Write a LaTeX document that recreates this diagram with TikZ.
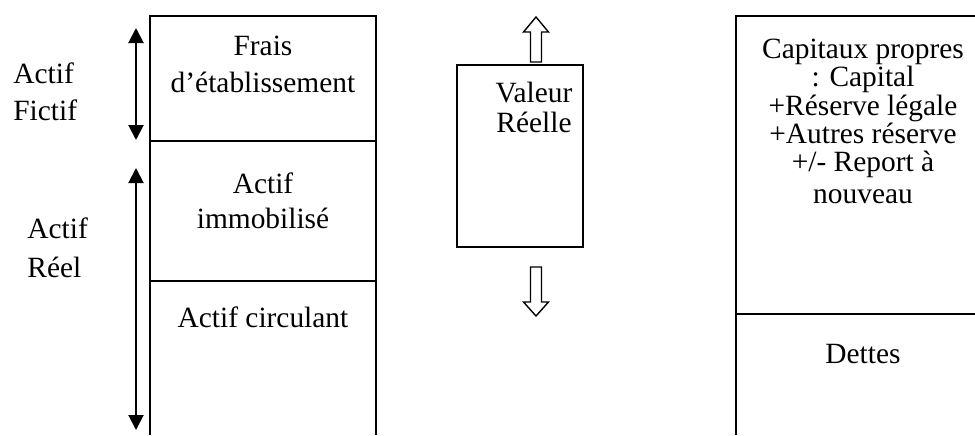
\documentclass[tikz,border=0pt]{standalone}
\usepackage{fontspec}
\setmainfont{Liberation Serif}
\usetikzlibrary{arrows.meta}
\begin{document}
\begin{tikzpicture}[x=0.5pt,y=-0.5pt,line join=miter,
  frame/.style={line width=1pt},
  divider/.style={line width=0.7pt},
  lbl/.style={anchor=base,inner sep=0pt,font=\fontsize{14.7}{17}\selectfont},
  lblw/.style={lbl,anchor=base west},
  dbl/.style={{Triangle[length=7.5pt,width=7.5pt]}-{Triangle[length=7.5pt,width=7.5pt]},line width=1pt},
  hollow/.style={line width=0.7pt}]
\useasboundingbox (0,0) rectangle (975,435);
% left box
\draw[frame] (150,435) -- (150,16) -- (376,16) -- (376,435);
\draw[divider] (150,141) -- (376,141);
\draw[divider] (150,281) -- (376,281);
% double arrows
\coordinate (f1) at (136,28);
\coordinate (f2) at (136,140);
\coordinate (r1) at (136,168);
\coordinate (r2) at (136,430);
\draw[dbl] (f1) -- (f2);
\draw[dbl] (r1) -- (r2);
% middle box
\draw[frame] (457,65) rectangle (583,247);
\draw[hollow] (536,17) -- (548.5,32) -- (541.5,32) -- (541.5,62) -- (530.5,62) -- (530.5,32) -- (523.5,32) -- cycle;
\draw[hollow] (536,316) -- (548.5,302) -- (541.5,302) -- (541.5,267) -- (530.5,267) -- (530.5,302) -- (523.5,302) -- cycle;
% right box
\draw[frame] (736,435) -- (736,16) -- (975,16);
\draw[divider] (736,314) -- (975,314);
% left labels
\node[lblw] (af) at (13,83) {Actif};
\node[lblw] (fi) at (13,120) {Fictif};
\node[lblw] (ar) at (27,238) {Actif};
\node[lblw] (re) at (27,277) {Réel};
% left box texts
\node[lbl] (fr1) at (263,55) {Frais};
\node[lbl] (fr2) at (263,92) {d’établissement};
\node[lbl] (ai1) at (263,193) {Actif};
\node[lbl] (ai2) at (263,228) {immobilisé};
\node[lbl] (ac) at (263,327) {Actif circulant};
% middle
\node[lbl] (v1) at (534,102) {Valeur};
\node[lbl] (v2) at (534,132) {Réelle};
% right
\node[lbl] (c1) at (863,58) {Capitaux propres};
\node[lbl] (c2) at (863,86) {: Capital};
\node[lbl] (c3) at (863,115) {+Réserve légale};
\node[lbl] (c4) at (863,143) {+Autres réserve};
\node[lbl] (c5) at (863,171) {+/- Report à};
\node[lbl] (c6) at (863,203) {nouveau};
\node[lbl] (de) at (863,363) {Dettes};
\end{tikzpicture}
\end{document}
